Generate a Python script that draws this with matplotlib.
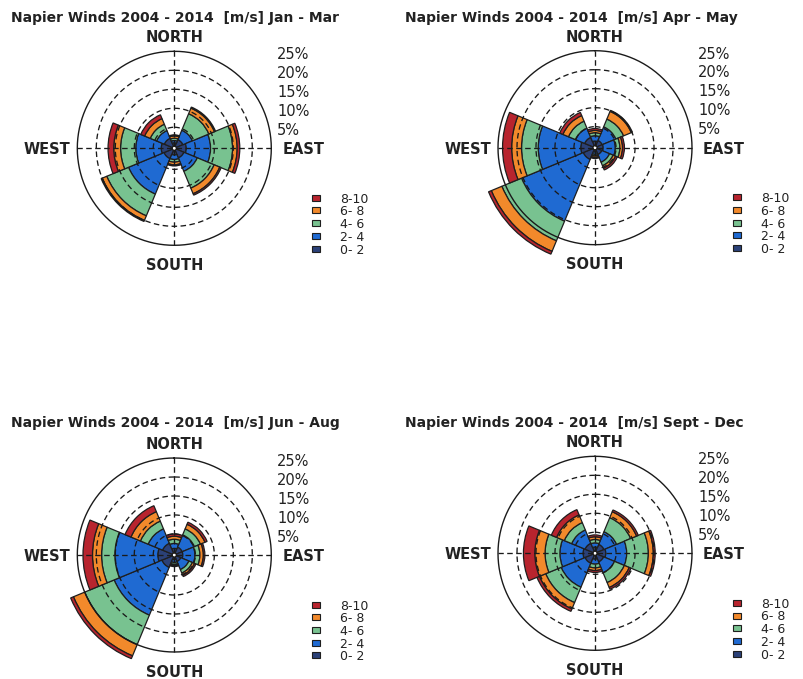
import numpy as np
import matplotlib
matplotlib.use("Agg")
import matplotlib.pyplot as plt
from matplotlib.patches import Rectangle

# ---------------- data ----------------
directions = ["N", "NE", "E", "SE", "S", "SW", "W", "NW"]
direction_deg = [0, 45, 90, 135, 180, 225, 270, 315]
speed_bins = ["0- 2", "2- 4", "4- 6", "6- 8", "8-10"]
bin_colors = ["#2b4178", "#1f6ad2", "#78c290", "#f2892b", "#b8242e"]
seasons = ["Jan - Mar", "Apr - May", "Jun - Aug", "Sept - Dec"]
title_prefix = "Napier Winds 2004 - 2014  [m/s] "
ring_values = [5, 10, 15, 20, 25]
ring_labels = ["5%", "10%", "15%", "20%", "25%"]
compass_labels = ["NORTH", "EAST", "SOUTH", "WEST"]

# frequency (%) per direction (N..NW) for each speed bin
jan_mar_0_2 = [0.9, 1.9, 2.6, 2.2, 1.2, 2.4, 2.9, 2.3]
jan_mar_2_4 = [0.6, 2.7, 6.4, 3.8, 1.2, 10.1, 6.7, 2.2]
jan_mar_4_6 = [0.6, 4.7, 5.8, 4.8, 0.7, 6.2, 4.0, 1.8]
jan_mar_6_8 = [0.6, 1.6, 1.2, 1.6, 0.7, 1.3, 1.8, 1.6]
jan_mar_8_10 = [0.3, 0.3, 0.7, 0.4, 0.3, 0.3, 1.5, 1.1]

apr_may_0_2 = [1.2, 1.5, 1.6, 1.4, 0.6, 2.8, 3.2, 2.4]
apr_may_2_4 = [1.4, 3.9, 3.2, 2.2, 0.6, 17.6, 11.2, 2.6]
apr_may_4_6 = [0.8, 2.2, 1.2, 1.0, 0.4, 5.6, 4.4, 2.0]
apr_may_6_8 = [0.6, 2.2, 0.7, 0.7, 0.4, 3.0, 2.6, 1.6]
apr_may_8_10 = [0.5, 0.3, 0.5, 0.5, 0.3, 0.8, 2.4, 0.9]

jun_aug_0_2 = [1.2, 1.7, 1.7, 1.3, 0.7, 3.0, 3.8, 2.8]
jun_aug_2_4 = [1.3, 3.5, 3.2, 2.3, 0.7, 13.6, 11.3, 4.1]
jun_aug_4_6 = [1.1, 1.7, 1.3, 1.0, 0.5, 8.4, 3.5, 2.2]
jun_aug_6_8 = [0.8, 1.3, 0.9, 0.6, 0.3, 3.2, 2.4, 2.7]
jun_aug_8_10 = [0.6, 0.6, 0.4, 0.4, 0.3, 0.8, 2.5, 1.7]

sep_dec_0_2 = [1.1, 2.0, 2.3, 1.9, 1.0, 2.3, 2.6, 2.3]
sep_dec_2_4 = [1.1, 3.6, 5.5, 3.1, 1.3, 6.8, 6.1, 3.8]
sep_dec_4_6 = [0.9, 4.0, 5.7, 2.8, 1.0, 4.4, 3.9, 2.1]
sep_dec_6_8 = [0.7, 1.7, 1.3, 1.4, 0.7, 1.8, 2.7, 2.2]
sep_dec_8_10 = [0.5, 0.5, 0.5, 0.5, 0.5, 0.7, 3.0, 1.5]

season_data = [
    [jan_mar_0_2, jan_mar_2_4, jan_mar_4_6, jan_mar_6_8, jan_mar_8_10],
    [apr_may_0_2, apr_may_2_4, apr_may_4_6, apr_may_6_8, apr_may_8_10],
    [jun_aug_0_2, jun_aug_2_4, jun_aug_4_6, jun_aug_6_8, jun_aug_8_10],
    [sep_dec_0_2, sep_dec_2_4, sep_dec_4_6, sep_dec_6_8, sep_dec_8_10],
]

# ---------------- layout ----------------
W, H = 804, 679
R = 97.0                       # px radius of the 25 % ring
centers = [(174.3, 148.3), (595.0, 147.7), (174.3, 555.0), (595.0, 553.3)]
title_pos = [(11.0, 16.5), (405.0, 16.5), (11.0, 421.0), (405.0, 421.0)]
PT = 72.0 / 100.0              # points per pixel

FONT = "DejaVu Sans"
EDGE = "#1e1e1e"
GRID = "#1a1a1a"

fig = plt.figure(figsize=(W / 100, H / 100), dpi=100)
fig.patch.set_facecolor("white")

theta_c = np.linspace(0, 2 * np.pi, 721)
dash = (0, (4.2, 2.6))

for (cx, cy), (tx, ty), season, bins in zip(centers, title_pos, seasons, season_data):
    rect = [(cx - R) / W, (H - cy - R) / H, 2 * R / W, 2 * R / H]
    ax = fig.add_axes(rect, projection="polar")
    ax.set_theta_zero_location("N")
    ax.set_theta_direction(-1)
    ax.set_ylim(0, 25)
    ax.set_rorigin(-0.55)
    ax.set_axis_off()

    theta = np.deg2rad(direction_deg)
    width = np.deg2rad(45)
    bottom = np.zeros(len(directions))
    for k, vals in enumerate(bins):
        vals = np.asarray(vals)
        ax.bar(theta, vals, width=width, bottom=bottom, color=bin_colors[k],
               edgecolor=EDGE, linewidth=0.9, align="center",
               clip_on=False, zorder=2)
        bottom = bottom + vals

    # grid drawn over the bars
    for r in ring_values[:-1]:
        ax.plot(theta_c, np.full_like(theta_c, r), color=GRID, lw=0.95,
                ls=dash, zorder=4, clip_on=False)
    ax.plot(theta_c, np.full_like(theta_c, ring_values[-1]), color=GRID,
            lw=1.0, zorder=4, clip_on=False)
    for a in [0, 90, 180, 270]:
        ax.plot([np.deg2rad(a)] * 2, [0, 25], color=GRID, lw=0.95, ls=dash,
                zorder=4, clip_on=False)

    # ring labels at right
    for r, lab in zip(ring_values, ring_labels):
        ax.annotate(lab, xy=(0, r), xycoords="data",
                    xytext=(103 * PT, -1.8 * PT), textcoords="offset points",
                    ha="left", va="center_baseline", fontsize=10.5,
                    family=FONT, color="#222222", annotation_clip=False)

    # compass labels
    kw = dict(xycoords="data", textcoords="offset points", fontsize=10.5,
              family=FONT, fontweight="bold", color="#222222",
              annotation_clip=False)
    ax.annotate(compass_labels[0], xy=(0, 25), xytext=(0, 14.8 * PT),
                ha="center", va="center_baseline", **kw)
    ax.annotate(compass_labels[2], xy=(np.pi, 25), xytext=(0, -18.7 * PT),
                ha="center", va="center_baseline", **kw)
    ax.annotate(compass_labels[1], xy=(np.pi / 2, 25), xytext=(11 * PT, 0),
                ha="left", va="center_baseline", **kw)
    ax.annotate(compass_labels[3], xy=(3 * np.pi / 2, 25), xytext=(-7 * PT, 0),
                ha="right", va="center_baseline", **kw)

    # legend (top: 8-10)
    for i, k in enumerate(range(len(speed_bins) - 1, -1, -1)):
        dy = 49.5 + 12.7 * i
        x0 = 0.5 + 137.7 / (2 * R)
        y0 = 0.5 - (dy + 3.0) / (2 * R)
        ax.add_patch(Rectangle((x0, y0), 8.5 / (2 * R), 6.0 / (2 * R),
                               transform=ax.transAxes, facecolor=bin_colors[k],
                               edgecolor=EDGE, linewidth=0.8, clip_on=False))
        ax.text(0.5 + 166 / (2 * R), 0.5 - dy / (2 * R), speed_bins[k],
                transform=ax.transAxes, ha="left", va="center_baseline",
                fontsize=9, family=FONT, color="#222222")

    fig.text(tx / W, 1 - ty / H, title_prefix + season, ha="left",
             va="center_baseline", fontsize=10, family=FONT,
             fontweight="bold", color="#222222")

fig.savefig("out.png", dpi=100, facecolor="white")
